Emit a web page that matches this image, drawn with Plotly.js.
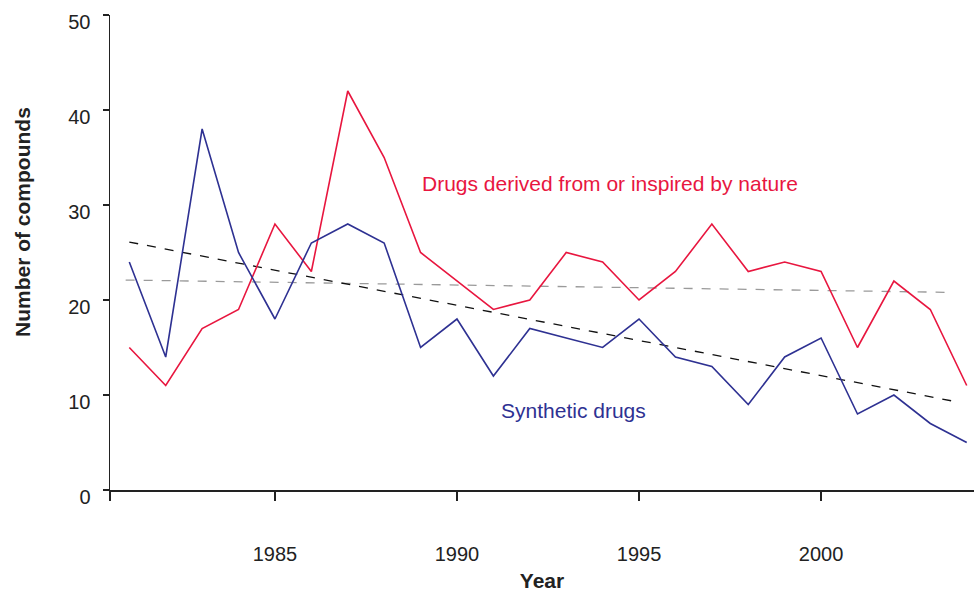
<!DOCTYPE html>
<html><head><meta charset="utf-8">
<script src="https://cdn.plot.ly/plotly-3.0.1.min.js"></script>
<style>body{margin:0;background:#fff}#chart{width:974px;height:592px}</style>
</head><body><div id="chart"></div>
<script>
const years = [1981,1982,1983,1984,1985,1986,1987,1988,1989,1990,1991,1992,1993,1994,1995,1996,1997,1998,1999,2000,2001,2002,2003,2004];
const natureDrugs = [15,11,17,19,28,23,42,35,25,22,19,20,25,24,20,23,28,23,24,23,15,22,19,11];
const syntheticDrugs = [24,14,38,25,18,26,28,26,15,18,12,17,16,15,18,14,13,9,14,16,8,10,7,5];
const trendYears = [1981, 2003.7];
const syntheticTrend = [26.1, 9.3];
const natureTrendYears = [1980.9, 2003.6];
const natureTrend = [22.1, 20.8];
const xTickVals = [1980.47, 1985, 1990, 1995, 2000];
const xTickText = ['', '1985', '1990', '1995', '2000'];

const red = '#e8163f', blue = '#2e3192';
const font = 'Liberation Sans, Arial, Helvetica, sans-serif';
const data = [
  {x: natureTrendYears, y: natureTrend, mode:'lines', line:{color:'#9a9a9a', width:1.3, dash:'dash'}, hoverinfo:'skip'},
  {x: trendYears, y: syntheticTrend, mode:'lines', line:{color:'#111', width:1.3, dash:'dash'}, hoverinfo:'skip'},
  {x: years, y: natureDrugs, mode:'lines', line:{color:red, width:1.6}, name:'Drugs derived from or inspired by nature'},
  {x: years, y: syntheticDrugs, mode:'lines', line:{color:blue, width:1.6}, name:'Synthetic drugs'}
];
const layout = {
  width:974, height:592, showlegend:false,
  paper_bgcolor:'#fff', plot_bgcolor:'#fff',
  margin:{l:110, r:0, t:15, b:102},
  font:{family:font, size:20, color:'#222'},
  xaxis:{range:[1980.47, 2004.2], tickvals:xTickVals, ticktext:xTickText, ticks:'outside', ticklen:9, tickwidth:1.2, tickcolor:'#222',
    showline:true, linecolor:'#222', linewidth:1.5, showgrid:false, zeroline:false, ticklabelstandoff:36,
    tickfont:{size:20}, title:{text:'<b>Year</b>', font:{size:21}, standoff:10}},
  yaxis:{range:[0,50], tickvals:[0,10,20,30,40,50], ticks:'outside', ticklen:6, tickwidth:1.2, tickcolor:'#222',
    showline:true, linecolor:'#222', linewidth:1.5, showgrid:false, zeroline:false, ticklabelstandoff:8, ticklabelshift:7,
    tickfont:{size:20}},
  annotations:[
    {x:1994.2, y:32.3, xref:'x', yref:'y', text:'Drugs derived from or inspired by nature', showarrow:false, font:{color:red, size:21}},
    {x:1993.2, y:8.4, xref:'x', yref:'y', text:'Synthetic drugs', showarrow:false, font:{color:blue, size:21}},
    {x:0, y:0, xref:'paper', yref:'paper', text:'<b>Number of compounds</b>', showarrow:false, textangle:-90, font:{size:21}}
  ]
};
layout.annotations[2].x = (22-110)/864; layout.annotations[2].xanchor='center';
layout.annotations[2].y = (490-222)/475;
Plotly.newPlot('chart', data, layout, {displayModeBar:false, staticPlot:true});
</script></body></html>
